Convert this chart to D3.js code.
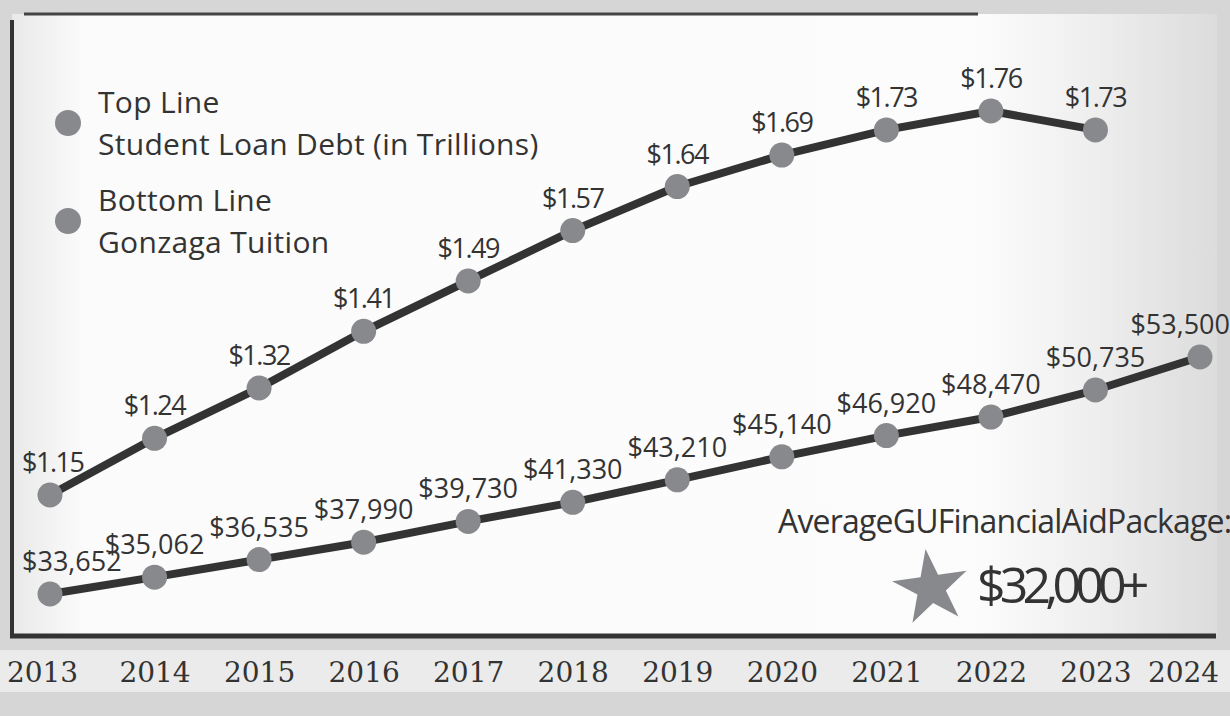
<!DOCTYPE html>
<html>
<head>
<meta charset="utf-8">
<script src="https://cdnjs.cloudflare.com/ajax/libs/d3/7.8.5/d3.min.js"></script>
<style>
  html, body { margin: 0; padding: 0; background: #d3d3d3; }
  svg { display: block; }
  .lbl { font-family: "Open Sans", "Noto Sans", sans-serif; fill: #333; }
  .year { font-family: "DejaVu Serif", serif; fill: #333; }
</style>
</head>
<body>
<script>
// 年份和两条线的数据
var years = [2013, 2014, 2015, 2016, 2017, 2018, 2019, 2020, 2021, 2022, 2023, 2024]
var debt = [1.15, 1.24, 1.32, 1.41, 1.49, 1.57, 1.64, 1.69, 1.73, 1.76, 1.73]   // 2013-2023, trillions
var tuition = [33652, 35062, 36535, 37990, 39730, 41330, 43210, 45140, 46920, 48470, 50735, 53500]
var legendItems = [
  ['Top Line', 'Student Loan Debt (in Trillions)'],
  ['Bottom Line', 'Gonzaga Tuition']
]
var aidLabel = 'AverageGUFinancialAidPackage:'
var aidValue = '$32,000+'

var width = 1230, height = 716
var lineColor = '#333', dotColor = '#88898d'

var svg = d3.select('body').append('svg')
  .attr('width', width)
  .attr('height', height)

// 背景
var defs = svg.append('defs')
var grad = defs.append('linearGradient').attr('id', 'bg').attr('x1', 0).attr('x2', 1).attr('y1', 0).attr('y2', 0)
grad.append('stop').attr('offset', '0').attr('stop-color', '#e9e9e9')
grad.append('stop').attr('offset', '0.06').attr('stop-color', '#fbfbfb')
grad.append('stop').attr('offset', '0.8').attr('stop-color', '#fcfcfc')
grad.append('stop').attr('offset', '0.9').attr('stop-color', '#eeeeee')
grad.append('stop').attr('offset', '1').attr('stop-color', '#dcdcdc')

svg.append('rect').attr('width', width).attr('height', height).attr('fill', '#d6d6d6')
svg.append('rect').attr('x', 12).attr('y', 14).attr('width', 1205).attr('height', 622).attr('fill', 'url(#bg)')
svg.append('rect').attr('x', 0).attr('y', 650).attr('width', width).attr('height', 42).attr('fill', '#ebebeb')

// scales
var x = d3.scalePoint().domain(years).range([50, 1200])
var yDebt = d3.scaleLinear().domain([1.15, 1.76]).range([495, 111])
var yTuition = d3.scaleLinear().domain([33652, 53500]).range([594, 357])

// frame lines
svg.append('line').attr('x1', 24).attr('x2', 978).attr('y1', 14).attr('y2', 14)
  .attr('stroke', '#444').attr('stroke-width', 3)
svg.append('line').attr('x1', 12).attr('x2', 12).attr('y1', 20).attr('y2', 638)
  .attr('stroke', lineColor).attr('stroke-width', 4)
svg.append('line').attr('x1', 10).attr('x2', 1216).attr('y1', 636).attr('y2', 636)
  .attr('stroke', lineColor).attr('stroke-width', 5)

// x axis labels
var xAxis = d3.axisBottom(x).tickSize(0).tickPadding(0)
var gx = svg.append('g').attr('transform', 'translate(0,662)').call(xAxis)
gx.select('.domain').remove()
gx.selectAll('text')
  .attr('class', 'year')
  .attr('font-size', 28)
  .attr('dy', '0.72em')
  .attr('dx', function(d, i) { return i === 0 ? -8 : (i === years.length - 1 ? -17 : 0) })

// 画一条线
drawSeries = (values, y, fmt, spacing) => {
  var pts = values.map((v, i) => ({ year: years[i], v: v }))
  var line = d3.line().x(d => x(d.year)).y(d => y(d.v))
  svg.append('path').datum(pts)
    .attr('d', line)
    .attr('fill', 'none')
    .attr('stroke', lineColor)
    .attr('stroke-width', 8)
    .attr('stroke-linejoin', 'round')
  svg.append('g').selectAll('circle')
    .data(pts).enter().append('circle')
    .attr('cx', d => x(d.year))
    .attr('cy', d => y(d.v))
    .attr('r', 12.5)
    .attr('fill', dotColor)
  var labels = svg.append('g').selectAll('text')
    .data(pts).enter().append('text')
    .attr('class', 'lbl')
    .attr('font-size', 27)
    .attr('letter-spacing', spacing + 'px')
    .attr('text-anchor', 'middle')
    .attr('x', d => x(d.year))
    .attr('y', d => y(d.v) - 23)
    .text(d => fmt(d.v))
  // keep labels inside the frame
  labels.each(function(d) {
    var w = this.getComputedTextLength()
    var cx = x(d.year)
    if (cx - w / 2 < 22) d3.select(this).attr('x', 22 + w / 2)
    if (cx + w / 2 > width) d3.select(this).attr('x', width - w / 2)
  })
}

drawSeries(debt, yDebt, v => '$' + v.toFixed(2), -1.5)
drawSeries(tuition, yTuition, v => '$' + d3.format(',')(v), 0)

// legend
var lg = svg.append('g').selectAll('g')
  .data(legendItems).enter().append('g')
  .attr('transform', (d, i) => 'translate(0,' + (i * 98) + ')')
lg.append('circle').attr('cx', 68).attr('cy', 123).attr('r', 13).attr('fill', dotColor)
lg.append('text').attr('class', 'lbl').attr('font-size', 30).attr('letter-spacing', '0.3px')
  .attr('x', 98).attr('y', 113).text(d => d[0])
lg.append('text').attr('class', 'lbl').attr('font-size', 30).attr('letter-spacing', '0.3px')
  .attr('x', 98).attr('y', 155).text(d => d[1])

// financial aid note
svg.append('text').attr('class', 'lbl')
  .attr('x', 778).attr('y', 533)
  .attr('font-size', 32)
  .attr('letter-spacing', '-0.8px')
  .text(aidLabel)

var star = d3.symbol().type(d3.symbolStar).size(1750)
svg.append('path')
  .attr('d', star())
  .attr('transform', 'translate(931,588) rotate(-8)')
  .attr('fill', dotColor)

svg.append('text').attr('class', 'lbl')
  .attr('x', 977).attr('y', 603)
  .attr('font-size', 50)
  .attr('letter-spacing', '-5.8px')
  .text(aidValue)
</script>
</body>
</html>
